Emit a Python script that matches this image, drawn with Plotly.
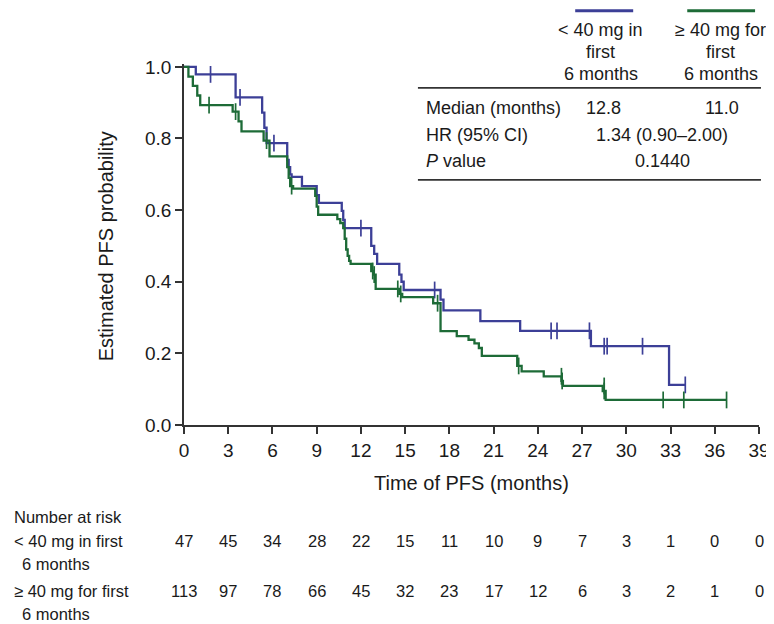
import plotly.graph_objects as go

# ---------------- data ----------------
blue_name = "< 40 mg in first 6 months"
green_name = "≥ 40 mg for first 6 months"

blue_time = [0, 0.8, 3.5, 5.3, 5.45, 5.6, 7.0, 7.1, 7.2, 7.3, 8.0, 9.0, 9.15, 10.7, 10.8,
             10.9, 12.7, 12.9, 13.1, 14.6, 14.75, 14.9, 17.4, 17.6, 20.1, 22.8, 27.6, 32.9, 34.0]
blue_surv = [1.0, 0.979, 0.915, 0.872, 0.83, 0.787, 0.74, 0.72, 0.70, 0.693, 0.667, 0.642, 0.62,
             0.598, 0.573, 0.55, 0.50, 0.478, 0.45, 0.42, 0.40, 0.377, 0.35, 0.32, 0.29, 0.263,
             0.22, 0.112, 0.112]
blue_cens_time = [1.8, 3.8, 6.1, 12.0, 17.0, 24.9, 25.3, 27.5, 28.5, 28.7, 31.1, 34.0]
blue_cens_surv = [0.979, 0.915, 0.787, 0.55, 0.377, 0.263, 0.263, 0.263, 0.22, 0.22, 0.22, 0.112]

green_time = [0, 0.3, 0.6, 0.9, 1.1, 3.3, 3.7, 3.9, 5.4, 5.8, 7.0, 7.1, 7.2, 7.4, 8.9, 9.0,
              9.1, 10.4, 10.6, 10.8, 10.9, 11.0, 11.1, 11.2, 11.3, 12.7, 12.85, 13.0, 14.6,
              14.8, 16.9, 17.4, 18.5, 19.3, 19.7, 20.0, 20.2, 22.6, 22.9, 24.4, 25.6, 25.7,
              28.4, 28.6, 36.8]
green_surv = [1.0, 0.973, 0.947, 0.92, 0.893, 0.875, 0.848, 0.82, 0.794, 0.75, 0.72, 0.69,
              0.667, 0.66, 0.64, 0.61, 0.587, 0.575, 0.564, 0.55, 0.52, 0.49, 0.472, 0.458,
              0.45, 0.43, 0.42, 0.38, 0.366, 0.357, 0.34, 0.262, 0.248, 0.238, 0.228, 0.215,
              0.193, 0.165, 0.15, 0.136, 0.123, 0.109, 0.095, 0.07, 0.07]
green_cens_time = [1.7, 3.5, 5.6, 7.3, 12.8, 12.9, 14.5, 14.7, 17.2, 22.7, 25.6, 25.65,
                   28.5, 28.5, 32.5, 33.9, 36.8]
green_cens_surv = [0.893, 0.875, 0.794, 0.667, 0.43, 0.42, 0.38, 0.366, 0.34, 0.165, 0.136,
                   0.123, 0.109, 0.095, 0.07, 0.07, 0.07]

risk_times = [0, 3, 6, 9, 12, 15, 18, 21, 24, 27, 30, 33, 36, 39]
blue_risk = [47, 45, 34, 28, 22, 15, 11, 10, 9, 7, 3, 1, 0, 0]
green_risk = [113, 97, 78, 66, 45, 32, 23, 17, 12, 6, 3, 2, 1, 0]

y_ticks = [0, 0.2, 0.4, 0.6, 0.8, 1.0]
y_ticktext = ["0.0", "0.2", "0.4", "0.6", "0.8", "1.0"]
x_ticks = risk_times

table_rows = ["Median (months)", "HR (95% CI)", "<i>P</i> value"]
median_vals = ["12.8", "11.0"]
hr_text = "1.34 (0.90–2.00)"
p_text = "0.1440"
blue_header = ["< 40 mg in", "first", "6 months"]
green_header = ["≥ 40 mg for", "first", "6 months"]

# ---------------- styling / geometry ----------------
BLUE = "#3c3f97"
GREEN = "#1d6b37"
AX = "#333333"
TXT = "#1a1a1a"
FONT = "Liberation Sans, Arial, Helvetica, sans-serif"

W, H = 774, 624
PX0, PX1 = 176, 761     # pixel of x=0 and x=39
PY0, PY1 = 417, 59      # pixel of y=0 and y=1
YMAX = 1.008
plot_h = (PY0 - PY1) * YMAX
top = PY0 - plot_h


def px(x):
    return (x - PX0) / (PX1 - PX0)


def py(y):
    return (PY0 - y) / plot_h


fig = go.Figure()

for t, s, ct, cs, col, name in [
    (blue_time, blue_surv, blue_cens_time, blue_cens_surv, BLUE, blue_name),
    (green_time, green_surv, green_cens_time, green_cens_surv, GREEN, green_name),
]:
    fig.add_trace(go.Scatter(x=t, y=s, mode="lines", line=dict(color=col, width=2.3, shape="hv"),
                             name=name, showlegend=False, hoverinfo="skip"))
    fig.add_trace(go.Scatter(x=ct, y=cs, mode="markers",
                             marker=dict(symbol="line-ns", size=12, line=dict(color=col, width=1.7)),
                             showlegend=False, hoverinfo="skip", cliponaxis=False))

annotations = []
shapes = []

# axis titles
annotations.append(dict(text="Estimated PFS probability", x=px(97), y=py((PY0 + PY1) / 2),
                        xref="paper", yref="paper", showarrow=False, textangle=-90,
                        font=dict(size=20, color=TXT, family=FONT), xanchor="center", yanchor="middle"))
annotations.append(dict(text="Time of PFS (months)", x=px((PX0 + PX1) / 2), y=py(475),
                        xref="paper", yref="paper", showarrow=False,
                        font=dict(size=20, color=TXT, family=FONT), xanchor="center", yanchor="middle"))

# number at risk table
RF = dict(size=16.5, color=TXT, family=FONT)
annotations.append(dict(text="Number at risk", x=px(1), y=py(509), xref="paper", yref="paper",
                        showarrow=False, font=RF, xanchor="left", yanchor="middle"))
for lab1, row_y, vals in [("< 40 mg in first", 533, blue_risk), ("≥ 40 mg for first", 583, green_risk)]:
    annotations.append(dict(text=lab1, x=px(1), y=py(row_y), xref="paper", yref="paper",
                            showarrow=False, font=RF, xanchor="left", yanchor="middle"))
    annotations.append(dict(text="6 months", x=px(9), y=py(row_y + 23), xref="paper", yref="paper",
                            showarrow=False, font=RF, xanchor="left", yanchor="middle"))
    for tt, v in zip(risk_times, vals):
        annotations.append(dict(text=str(v), x=tt, y=py(row_y), xref="x", yref="paper",
                                showarrow=False, font=RF, xanchor="center", yanchor="middle"))

# summary table (top right)
TF = dict(size=18, color=TXT, family=FONT)
shapes.append(dict(type="line", xref="paper", yref="paper", x0=px(574), x1=px(633), y0=py(3), y1=py(3),
                   line=dict(color=BLUE, width=3)))
shapes.append(dict(type="line", xref="paper", yref="paper", x0=px(688), x1=px(757), y0=py(3), y1=py(3),
                   line=dict(color=GREEN, width=3)))
for i, (bh, gh) in enumerate(zip(blue_header, green_header)):
    yy = [22, 44, 66][i]
    annotations.append(dict(text=bh, x=px(600), y=py(yy), xref="paper", yref="paper", showarrow=False,
                            font=TF, xanchor="center", yanchor="middle"))
    annotations.append(dict(text=gh, x=px(722), y=py(yy), xref="paper", yref="paper", showarrow=False,
                            font=TF, xanchor="center", yanchor="middle"))
for yy in [80, 172]:
    shapes.append(dict(type="line", xref="paper", yref="paper", x0=px(414), x1=px(763), y0=py(yy), y1=py(yy),
                       line=dict(color=AX, width=1.8)))
row_y = [100, 127, 153]
for lab, yy in zip(table_rows, row_y):
    annotations.append(dict(text=lab, x=px(420), y=py(yy), xref="paper", yref="paper", showarrow=False,
                            font=TF, xanchor="left", yanchor="middle"))
annotations.append(dict(text=median_vals[0], x=px(603), y=py(row_y[0]), xref="paper", yref="paper",
                        showarrow=False, font=TF, xanchor="center", yanchor="middle"))
annotations.append(dict(text=median_vals[1], x=px(723), y=py(row_y[0]), xref="paper", yref="paper",
                        showarrow=False, font=TF, xanchor="center", yanchor="middle"))
annotations.append(dict(text=hr_text, x=px(662), y=py(row_y[1]), xref="paper", yref="paper",
                        showarrow=False, font=TF, xanchor="center", yanchor="middle"))
annotations.append(dict(text=p_text, x=px(663), y=py(row_y[2]), xref="paper", yref="paper",
                        showarrow=False, font=TF, xanchor="center", yanchor="middle"))

fig.update_layout(
    width=W, height=H,
    margin=dict(l=PX0, r=W - PX1, t=top, b=H - PY0, pad=0),
    paper_bgcolor="white", plot_bgcolor="white",
    showlegend=False,
    annotations=annotations, shapes=shapes,
    xaxis=dict(range=[0, 39], tickvals=x_ticks, ticks="outside", ticklen=7, tickwidth=1.6,
               tickcolor=AX, showline=True, linecolor=AX, linewidth=1.8, showgrid=False,
               zeroline=False, tickfont=dict(size=19, color=TXT, family=FONT), fixedrange=True),
    yaxis=dict(range=[0, YMAX], tickvals=y_ticks, ticktext=y_ticktext, ticks="outside", ticklen=7,
               tickwidth=1.6, tickcolor=AX, showline=True, linecolor=AX, linewidth=1.8,
               showgrid=False, zeroline=False, tickfont=dict(size=19, color=TXT, family=FONT),
               fixedrange=True),
)

fig.write_html("out.html")
